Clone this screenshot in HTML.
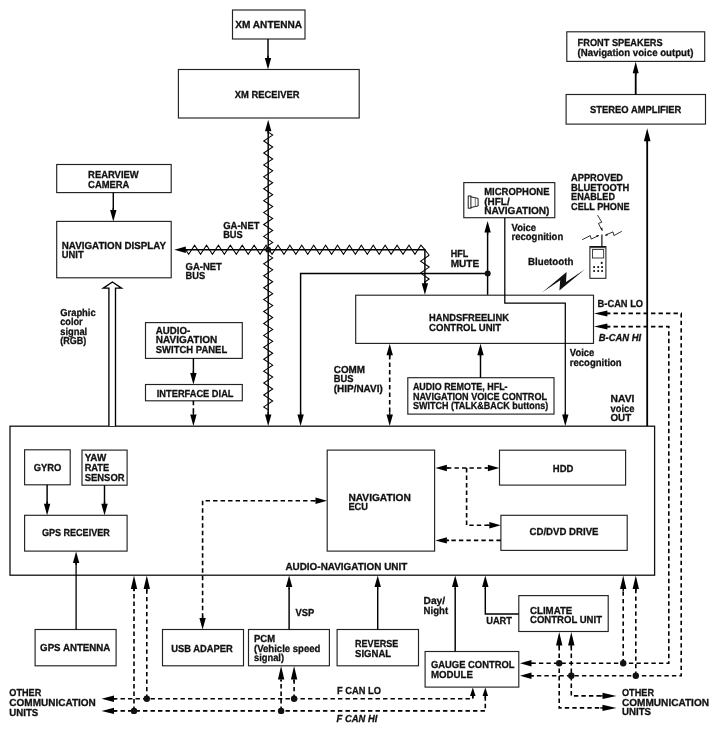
<!DOCTYPE html>
<html><head><meta charset="utf-8"><title>Navigation system block diagram</title>
<style>
html,body{margin:0;padding:0;background:#fff;}
body{width:718px;height:733px;overflow:hidden;}
svg{display:block;will-change:transform;transform:translateZ(0);}
svg text{font-family:"Liberation Sans",sans-serif;font-weight:bold;fill:#111;stroke:#111;stroke-width:0.3px;text-rendering:geometricPrecision;}
</style></head><body>
<svg width="718" height="733" viewBox="0 0 718 733">
<rect x="0" y="0" width="718" height="733" fill="#fff"/>
<rect x="10" y="426.2" width="644.6" height="149.0" fill="#fff" stroke="#111" stroke-width="1.3"/>
<rect x="232.5" y="10" width="72.5" height="29" fill="#fff" stroke="#222" stroke-width="1.15"/>
<rect x="178.4" y="69.5" width="180.8" height="48.5" fill="#fff" stroke="#222" stroke-width="1.15"/>
<rect x="56.7" y="164.5" width="114.5" height="28.1" fill="#fff" stroke="#222" stroke-width="1.15"/>
<rect x="56.7" y="221.4" width="114.5" height="56.4" fill="#fff" stroke="#222" stroke-width="1.15"/>
<rect x="145.5" y="322.6" width="96.8" height="35.8" fill="#fff" stroke="#222" stroke-width="1.15"/>
<rect x="145.5" y="384.5" width="96.8" height="16.3" fill="#fff" stroke="#222" stroke-width="1.15"/>
<rect x="566.8" y="31.8" width="137.9" height="29.6" fill="#fff" stroke="#222" stroke-width="1.15"/>
<rect x="566.1" y="94.5" width="139.4" height="29.6" fill="#fff" stroke="#222" stroke-width="1.15"/>
<rect x="463.8" y="182.6" width="91.0" height="35.1" fill="#fff" stroke="#222" stroke-width="1.15"/>
<rect x="355.7" y="295.2" width="237.8" height="48.2" fill="#fff" stroke="#222" stroke-width="1.15"/>
<rect x="407.8" y="377.7" width="146.2" height="36.4" fill="#fff" stroke="#222" stroke-width="1.15"/>
<rect x="24.6" y="449.8" width="45.6" height="35.0" fill="#fff" stroke="#222" stroke-width="1.15"/>
<rect x="82" y="450.1" width="45.1" height="35.1" fill="#fff" stroke="#222" stroke-width="1.15"/>
<rect x="24.6" y="515.3" width="102.5" height="35.8" fill="#fff" stroke="#222" stroke-width="1.15"/>
<rect x="327.2" y="450.1" width="107.4" height="101.0" fill="#fff" stroke="#222" stroke-width="1.15"/>
<rect x="499.5" y="450.2" width="126.1" height="34.9" fill="#fff" stroke="#222" stroke-width="1.15"/>
<rect x="500.9" y="515.3" width="126.3" height="35.1" fill="#fff" stroke="#222" stroke-width="1.15"/>
<rect x="35.1" y="629.5" width="81.0" height="36.3" fill="#fff" stroke="#222" stroke-width="1.15"/>
<rect x="162.5" y="629.5" width="81.0" height="36.3" fill="#fff" stroke="#222" stroke-width="1.15"/>
<rect x="248.5" y="629.5" width="80.9" height="36.3" fill="#fff" stroke="#222" stroke-width="1.15"/>
<rect x="337.1" y="629.5" width="81.4" height="36.3" fill="#fff" stroke="#222" stroke-width="1.15"/>
<rect x="425.1" y="651.5" width="93.7" height="35.6" fill="#fff" stroke="#222" stroke-width="1.15"/>
<rect x="518.8" y="595.6" width="89.4" height="35.9" fill="#fff" stroke="#222" stroke-width="1.15"/>
<path d="M268 39 L268 60" fill="none" stroke="#000" stroke-width="1.45"/>
<polygon points="268,69.5 264.8,58.0 271.2,58.0" fill="#000"/>
<path d="M268 58.3 L268 55.8" stroke="#000" stroke-width="1.4" fill="none"/>
<path d="M113.3 192.6 L113.3 212" fill="none" stroke="#000" stroke-width="1.45"/>
<polygon points="113.3,221.4 110.1,209.9 116.5,209.9" fill="#000"/>
<path d="M113.3 210.2 L113.3 207.7" stroke="#000" stroke-width="1.4" fill="none"/>
<path d="M193.4 358.4 L193.4 376" fill="none" stroke="#000" stroke-width="1.45"/>
<polygon points="193.4,384.5 190.2,373.0 196.6,373.0" fill="#000"/>
<path d="M193.4 373.3 L193.4 370.8" stroke="#000" stroke-width="1.4" fill="none"/>
<path d="M193.4 400.8 L193.4 416" fill="none" stroke="#000" stroke-width="1.6" stroke-dasharray="4.4 3.1"/>
<polygon points="193.4,426 190.2,414.5 196.6,414.5" fill="#000"/>
<path d="M193.4 414.8 L193.4 412.3" stroke="#000" stroke-width="1.4" fill="none"/>
<path d="M108.9 426 L108.9 288.1 L103.3 288.1 L112.4 282 L121.5 288.1 L115.5 288.1 L115.5 426" fill="#fff" stroke="#000" stroke-width="1.35"/>
<path d="M268.2 130 L268.2 416" fill="none" stroke="#000" stroke-width="1.45"/>
<polygon points="268.2,119.8 265.0,131.3 271.4,131.3" fill="#000"/>
<path d="M268.2 131.0 L268.2 133.5" stroke="#000" stroke-width="1.4" fill="none"/>
<polygon points="268.2,426 265.0,414.5 271.4,414.5" fill="#000"/>
<path d="M268.2 414.8 L268.2 412.3" stroke="#000" stroke-width="1.4" fill="none"/>
<path d="M268.2 132.12 L272.7 135.1 L263.7 141.06 L272.7 147.02 L263.7 152.98 L272.7 158.94 L263.7 164.9 L272.7 170.86 L263.7 176.82 L272.7 182.78 L263.7 188.74 L272.7 194.7 L263.7 200.66 L272.7 206.62 L263.7 212.58 L272.7 218.54 L263.7 224.5 L272.7 230.46 L263.7 236.42 L272.7 242.38 L268.2 245.36" fill="none" stroke="#000" stroke-width="1.05" stroke-linejoin="miter"/>
<path d="M268.2 254.92 L272.7 257.9 L263.7 263.86 L272.7 269.82 L263.7 275.78 L272.7 281.74 L263.7 287.7 L272.7 293.66 L263.7 299.62 L272.7 305.58 L263.7 311.54 L272.7 317.5 L263.7 323.46 L272.7 329.42 L263.7 335.38 L272.7 341.34 L263.7 347.3 L272.7 353.26 L263.7 359.22 L272.7 365.18 L263.7 371.14 L272.7 377.1 L263.7 383.06 L272.7 389.02 L263.7 394.98 L272.7 400.94 L263.7 406.9 L268.2 409.88" fill="none" stroke="#000" stroke-width="1.05" stroke-linejoin="miter"/>
<path d="M185 249.7 L424.9 249.7 L424.9 284" fill="none" stroke="#000" stroke-width="1.45"/>
<polygon points="174.3,249.7 185.8,246.5 185.8,252.9" fill="#000"/>
<path d="M185.5 249.7 L188.0 249.7" stroke="#000" stroke-width="1.4" fill="none"/>
<polygon points="424.9,294.8 421.7,283.3 428.1,283.3" fill="#000"/>
<path d="M424.9 283.6 L424.9 281.1" stroke="#000" stroke-width="1.4" fill="none"/>
<path d="M185.67 249.7 L188.64 254.2 L194.6 245.2 L200.56 254.2 L206.51 245.2 L212.47 254.2 L218.42 245.2 L224.38 254.2 L230.33 245.2 L236.28 254.2 L242.24 245.2 L248.19 254.2 L254.15 245.2 L260.11 254.2 L266.06 245.2 L272.01 254.2 L277.97 245.2 L283.93 254.2 L289.88 245.2 L295.83 254.2 L301.79 245.2 L307.75 254.2 L313.7 245.2 L319.65 254.2 L325.61 245.2 L331.56 254.2 L337.52 245.2 L343.48 254.2 L349.43 245.2 L355.38 254.2 L361.34 245.2 L367.29 254.2 L373.25 245.2 L379.2 254.2 L385.16 245.2 L391.12 254.2 L397.07 245.2 L403.02 254.2 L408.98 245.2 L414.94 254.2 L420.89 245.2 L424.9 249.7" fill="none" stroke="#000" stroke-width="1.05" stroke-linejoin="miter"/>
<path d="M429.2 255.2 L420.6 261.16 L429.2 267.12 L420.6 273.08 L429.2 279.04 L424.9 282.02" fill="none" stroke="#000" stroke-width="1.05" stroke-linejoin="miter"/>
<path d="M424.9 249.7 L429.2 255.2" fill="none" stroke="#000" stroke-width="1.05"/>
<circle cx="268.2" cy="249.7" r="2.9" fill="#111"/>
<path d="M487.6 232 L487.6 294.8" fill="none" stroke="#000" stroke-width="1.45"/>
<polygon points="487.6,221 484.4,232.5 490.8,232.5" fill="#000"/>
<path d="M487.6 232.2 L487.6 234.7" stroke="#000" stroke-width="1.4" fill="none"/>
<path d="M487.6 273.4 L300.6 273.4 L300.6 415" fill="none" stroke="#000" stroke-width="1.45"/>
<polygon points="300.6,426 297.4,414.5 303.8,414.5" fill="#000"/>
<path d="M300.6 414.8 L300.6 412.3" stroke="#000" stroke-width="1.4" fill="none"/>
<circle cx="487.7" cy="273.5" r="3.0" fill="#111"/>
<path d="M504.8 217.7 L504.8 303.1 L565.3 303.1 L565.3 415" fill="none" stroke="#000" stroke-width="1.25"/>
<polygon points="565.3,426 562.1,414.5 568.5,414.5" fill="#000"/>
<path d="M565.3 414.8 L565.3 412.3" stroke="#000" stroke-width="1.4" fill="none"/>
<path d="M480.5 377.7 L480.5 355" fill="none" stroke="#000" stroke-width="1.45"/>
<polygon points="480.5,343.7 477.3,355.2 483.7,355.2" fill="#000"/>
<path d="M480.5 354.9 L480.5 357.4" stroke="#000" stroke-width="1.4" fill="none"/>
<path d="M389.7 355 L389.7 415" fill="none" stroke="#000" stroke-width="1.6" stroke-dasharray="4.4 3.1"/>
<polygon points="389.7,343.7 386.5,355.2 392.9,355.2" fill="#000"/>
<path d="M389.7 354.9 L389.7 357.4" stroke="#000" stroke-width="1.4" fill="none"/>
<polygon points="389.7,426 386.5,414.5 392.9,414.5" fill="#000"/>
<path d="M389.7 414.8 L389.7 412.3" stroke="#000" stroke-width="1.4" fill="none"/>
<path d="M635.7 94.5 L635.7 73" fill="none" stroke="#000" stroke-width="1.8"/>
<polygon points="635.7,61.6 632.7,73.3 638.7,73.3" fill="#000"/>
<path d="M635.7 73.0 L635.7 75.5" stroke="#000" stroke-width="1.4" fill="none"/>
<path d="M647.2 426 L647.2 140" fill="none" stroke="#000" stroke-width="1.8"/>
<polygon points="647.2,128.3 643.9,141.3 650.5,141.3" fill="#000"/>
<path d="M647.2 141.0 L647.2 143.5" stroke="#000" stroke-width="1.4" fill="none"/>
<path d="M606 313.4 L681.2 313.4 L681.2 675.8 L531 675.8" fill="none" stroke="#000" stroke-width="1.6" stroke-dasharray="4.4 3.1"/>
<polygon points="594,313.5 607.4,310.5 607.4,316.5" fill="#000"/>
<path d="M607.1 313.5 L609.6 313.5" stroke="#000" stroke-width="1.4" fill="none"/>
<path d="M606 326.6 L668.8 326.6 L668.8 663.3 L531 663.3" fill="none" stroke="#000" stroke-width="1.6" stroke-dasharray="4.4 3.1"/>
<polygon points="594,326.6 607.4,323.6 607.4,329.6" fill="#000"/>
<path d="M607.1 326.6 L609.6 326.6" stroke="#000" stroke-width="1.4" fill="none"/>
<path d="M47.1 484.8 L47.1 505" fill="none" stroke="#000" stroke-width="1.45"/>
<polygon points="47.1,515.3 43.9,503.8 50.3,503.8" fill="#000"/>
<path d="M47.1 504.1 L47.1 501.6" stroke="#000" stroke-width="1.4" fill="none"/>
<path d="M104.5 485.2 L104.5 505" fill="none" stroke="#000" stroke-width="1.45"/>
<polygon points="104.5,515.3 101.3,503.8 107.7,503.8" fill="#000"/>
<path d="M104.5 504.1 L104.5 501.6" stroke="#000" stroke-width="1.4" fill="none"/>
<path d="M76.1 629.5 L76.1 562" fill="none" stroke="#000" stroke-width="1.3"/>
<polygon points="76.1,551.4 72.9,562.9 79.3,562.9" fill="#000"/>
<path d="M76.1 562.6 L76.1 565.1" stroke="#000" stroke-width="1.4" fill="none"/>
<path d="M315 500.7 L202.6 500.7 L202.6 619" fill="none" stroke="#000" stroke-width="1.6" stroke-dasharray="4.4 3.1"/>
<polygon points="327,500.7 315.5,497.5 315.5,503.9" fill="#000"/>
<path d="M315.8 500.7 L313.3 500.7" stroke="#000" stroke-width="1.4" fill="none"/>
<polygon points="202.6,629.5 199.4,618.0 205.8,618.0" fill="#000"/>
<path d="M202.6 618.3 L202.6 615.8" stroke="#000" stroke-width="1.4" fill="none"/>
<path d="M447 468 L487 468" fill="none" stroke="#000" stroke-width="1.6" stroke-dasharray="4.4 3.1"/>
<polygon points="435.4,468 446.9,464.8 446.9,471.2" fill="#000"/>
<path d="M446.6 468 L449.1 468" stroke="#000" stroke-width="1.4" fill="none"/>
<polygon points="499.4,468 487.9,464.8 487.9,471.2" fill="#000"/>
<path d="M488.2 468 L485.7 468" stroke="#000" stroke-width="1.4" fill="none"/>
<path d="M466.6 468 L466.6 525.3 L489 525.3" fill="none" stroke="#000" stroke-width="1.6" stroke-dasharray="4.4 3.1"/>
<polygon points="500.8,525.3 489.3,522.1 489.3,528.5" fill="#000"/>
<path d="M489.6 525.3 L487.1 525.3" stroke="#000" stroke-width="1.4" fill="none"/>
<path d="M500.8 540.4 L447 540.4" fill="none" stroke="#000" stroke-width="1.6" stroke-dasharray="4.4 3.1"/>
<polygon points="435.4,540.4 446.9,537.2 446.9,543.6" fill="#000"/>
<path d="M446.6 540.4 L449.1 540.4" stroke="#000" stroke-width="1.4" fill="none"/>
<path d="M289.1 629.5 L289.1 588" fill="none" stroke="#000" stroke-width="1.45"/>
<polygon points="289.1,575.5 285.9,587.0 292.3,587.0" fill="#000"/>
<path d="M289.1 586.7 L289.1 589.2" stroke="#000" stroke-width="1.4" fill="none"/>
<path d="M377.7 629.5 L377.7 588" fill="none" stroke="#000" stroke-width="1.45"/>
<polygon points="377.7,575.5 374.5,587.0 380.9,587.0" fill="#000"/>
<path d="M377.7 586.7 L377.7 589.2" stroke="#000" stroke-width="1.4" fill="none"/>
<path d="M455.2 651.5 L455.2 588" fill="none" stroke="#000" stroke-width="1.45"/>
<polygon points="455.2,575.5 452.0,587.0 458.4,587.0" fill="#000"/>
<path d="M455.2 586.7 L455.2 589.2" stroke="#000" stroke-width="1.4" fill="none"/>
<path d="M518.8 613.9 L485.3 613.9 L485.3 588" fill="none" stroke="#000" stroke-width="1.45"/>
<polygon points="485.3,575.5 482.1,587.0 488.5,587.0" fill="#000"/>
<path d="M485.3 586.7 L485.3 589.2" stroke="#000" stroke-width="1.4" fill="none"/>
<path d="M113 698.8 L472.8 698.8 L472.8 696" fill="none" stroke="#000" stroke-width="1.6" stroke-dasharray="4.4 3.1"/>
<polygon points="101.5,698.8 114.0,695.6 114.0,702.0" fill="#000"/>
<path d="M113.7 698.8 L116.2 698.8" stroke="#000" stroke-width="1.4" fill="none"/>
<polygon points="472.8,687.5 470.05,696.0 475.55,696.0" fill="#000"/>
<path d="M472.8 695.7 L472.8 698.2" stroke="#000" stroke-width="1.4" fill="none"/>
<path d="M113 710.9 L485.3 710.9 L485.3 696" fill="none" stroke="#000" stroke-width="1.6" stroke-dasharray="4.4 3.1"/>
<polygon points="101.5,710.9 114.0,707.7 114.0,714.1" fill="#000"/>
<path d="M113.7 710.9 L116.2 710.9" stroke="#000" stroke-width="1.4" fill="none"/>
<polygon points="485.3,687.5 482.55,696.0 488.05,696.0" fill="#000"/>
<path d="M485.3 695.7 L485.3 698.2" stroke="#000" stroke-width="1.4" fill="none"/>
<path d="M146.8 698.8 L146.8 589" fill="none" stroke="#000" stroke-width="1.6" stroke-dasharray="4.4 3.1"/>
<polygon points="146.8,575.5 143.6,589.0 150.0,589.0" fill="#000"/>
<path d="M146.8 588.7 L146.8 591.2" stroke="#000" stroke-width="1.4" fill="none"/>
<path d="M134 710.9 L134 589" fill="none" stroke="#000" stroke-width="1.6" stroke-dasharray="4.4 3.1"/>
<polygon points="134,575.5 130.8,589.0 137.2,589.0" fill="#000"/>
<path d="M134 588.7 L134 591.2" stroke="#000" stroke-width="1.4" fill="none"/>
<circle cx="146.8" cy="698.8" r="3.2" fill="#111"/>
<circle cx="134" cy="710.9" r="3.2" fill="#111"/>
<path d="M294.1 698.8 L294.1 680" fill="none" stroke="#000" stroke-width="1.6" stroke-dasharray="4.4 3.1"/>
<polygon points="294.1,666.1 290.9,679.6 297.3,679.6" fill="#000"/>
<path d="M294.1 679.3 L294.1 681.8" stroke="#000" stroke-width="1.4" fill="none"/>
<path d="M281.1 710.9 L281.1 680" fill="none" stroke="#000" stroke-width="1.6" stroke-dasharray="4.4 3.1"/>
<polygon points="281.1,666.1 277.9,679.6 284.3,679.6" fill="#000"/>
<path d="M281.1 679.3 L281.1 681.8" stroke="#000" stroke-width="1.4" fill="none"/>
<circle cx="294.1" cy="698.8" r="3.2" fill="#111"/>
<circle cx="281.1" cy="710.9" r="3.2" fill="#111"/>
<polygon points="520,663.3 531.5,660.1 531.5,666.5" fill="#000"/>
<path d="M531.2 663.3 L533.7 663.3" stroke="#000" stroke-width="1.4" fill="none"/>
<polygon points="520,675.8 531.5,672.6 531.5,679.0" fill="#000"/>
<path d="M531.2 675.8 L533.7 675.8" stroke="#000" stroke-width="1.4" fill="none"/>
<path d="M559.2 646 L559.2 707.9 L603 707.9" fill="none" stroke="#000" stroke-width="1.6" stroke-dasharray="4.4 3.1"/>
<polygon points="559.2,631.9 556.0,645.4 562.4,645.4" fill="#000"/>
<path d="M559.2 645.1 L559.2 647.6" stroke="#000" stroke-width="1.4" fill="none"/>
<polygon points="616.5,707.9 602.5,704.7 602.5,711.1" fill="#000"/>
<path d="M602.8 707.9 L600.3 707.9" stroke="#000" stroke-width="1.4" fill="none"/>
<path d="M571.3 646 L571.3 695.9 L603 695.9" fill="none" stroke="#000" stroke-width="1.6" stroke-dasharray="4.4 3.1"/>
<polygon points="571.3,631.9 568.1,645.4 574.5,645.4" fill="#000"/>
<path d="M571.3 645.1 L571.3 647.6" stroke="#000" stroke-width="1.4" fill="none"/>
<polygon points="616.5,695.9 602.5,692.7 602.5,699.1" fill="#000"/>
<path d="M602.8 695.9 L600.3 695.9" stroke="#000" stroke-width="1.4" fill="none"/>
<path d="M623.2 663.3 L623.2 589" fill="none" stroke="#000" stroke-width="1.6" stroke-dasharray="4.4 3.1"/>
<polygon points="623.2,575.5 620.0,589.0 626.4,589.0" fill="#000"/>
<path d="M623.2 588.7 L623.2 591.2" stroke="#000" stroke-width="1.4" fill="none"/>
<path d="M635.8 675.8 L635.8 589" fill="none" stroke="#000" stroke-width="1.6" stroke-dasharray="4.4 3.1"/>
<polygon points="635.8,575.5 632.6,589.0 639.0,589.0" fill="#000"/>
<path d="M635.8 588.7 L635.8 591.2" stroke="#000" stroke-width="1.4" fill="none"/>
<circle cx="559.2" cy="663.3" r="3.2" fill="#111"/>
<circle cx="571.3" cy="675.8" r="3.2" fill="#111"/>
<circle cx="623.2" cy="663.3" r="3.2" fill="#111"/>
<circle cx="635.8" cy="675.8" r="3.2" fill="#111"/>
<text x="235.3" y="27.9" font-size="10.2" textLength="66.8" lengthAdjust="spacingAndGlyphs">XM ANTENNA</text>
<text x="234.7" y="97.9" font-size="10.2" textLength="64.8" lengthAdjust="spacingAndGlyphs">XM RECEIVER</text>
<text x="88.1" y="178.1" font-size="10.2" textLength="50.6" lengthAdjust="spacingAndGlyphs">REARVIEW</text>
<text x="88.1" y="187.5" font-size="10.2" textLength="41.3" lengthAdjust="spacingAndGlyphs">CAMERA</text>
<text x="61.8" y="248.6" font-size="10.2" textLength="104.2" lengthAdjust="spacingAndGlyphs">NAVIGATION DISPLAY</text>
<text x="61.8" y="258" font-size="10.2" textLength="21.8" lengthAdjust="spacingAndGlyphs">UNIT</text>
<text x="60.2" y="315.9" font-size="10.2" textLength="35.5" lengthAdjust="spacingAndGlyphs">Graphic</text>
<text x="60.2" y="325.4" font-size="10.2" textLength="22.5" lengthAdjust="spacingAndGlyphs">color</text>
<text x="60.2" y="335" font-size="10.2" textLength="27" lengthAdjust="spacingAndGlyphs">signal</text>
<text x="60.2" y="344.3" font-size="10.2" textLength="26" lengthAdjust="spacingAndGlyphs">(RGB)</text>
<text x="155.8" y="333.8" font-size="10.2" textLength="34.5" lengthAdjust="spacingAndGlyphs">AUDIO-</text>
<text x="155.8" y="343.4" font-size="10.2" textLength="61.5" lengthAdjust="spacingAndGlyphs">NAVIGATION</text>
<text x="155.8" y="352.7" font-size="10.2" textLength="71.4" lengthAdjust="spacingAndGlyphs">SWITCH PANEL</text>
<text x="156.8" y="396.5" font-size="10.2" textLength="76.7" lengthAdjust="spacingAndGlyphs">INTERFACE DIAL</text>
<text x="223.2" y="228.6" font-size="10.2" textLength="36.3" lengthAdjust="spacingAndGlyphs">GA-NET</text>
<text x="223.2" y="237.9" font-size="10.2" textLength="19.5" lengthAdjust="spacingAndGlyphs">BUS</text>
<text x="185.6" y="269.7" font-size="10.2" textLength="36.3" lengthAdjust="spacingAndGlyphs">GA-NET</text>
<text x="185.6" y="278.8" font-size="10.2" textLength="19.5" lengthAdjust="spacingAndGlyphs">BUS</text>
<text x="577.6" y="46.3" font-size="10.2" textLength="85" lengthAdjust="spacingAndGlyphs">FRONT SPEAKERS</text>
<text x="577.6" y="56.4" font-size="10.2" textLength="115.8" lengthAdjust="spacingAndGlyphs">(Navigation voice output)</text>
<text x="590.1" y="112.8" font-size="10.2" textLength="91.3" lengthAdjust="spacingAndGlyphs">STEREO AMPLIFIER</text>
<text x="484.2" y="195.1" font-size="10.2" textLength="65.3" lengthAdjust="spacingAndGlyphs">MICROPHONE</text>
<text x="484.2" y="204.6" font-size="10.2" textLength="25.5" lengthAdjust="spacingAndGlyphs">(HFL/</text>
<text x="484.2" y="213.9" font-size="10.2" textLength="65.3" lengthAdjust="spacingAndGlyphs">NAVIGATION)</text>
<text x="571.1" y="181.1" font-size="10.2" textLength="51.9" lengthAdjust="spacingAndGlyphs">APPROVED</text>
<text x="571.1" y="190.7" font-size="10.2" textLength="58.1" lengthAdjust="spacingAndGlyphs">BLUETOOTH</text>
<text x="571.1" y="200.2" font-size="10.2" textLength="43.9" lengthAdjust="spacingAndGlyphs">ENABLED</text>
<text x="571.1" y="210" font-size="10.2" textLength="58.5" lengthAdjust="spacingAndGlyphs">CELL PHONE</text>
<text x="511.6" y="230.6" font-size="10.2" textLength="24.5" lengthAdjust="spacingAndGlyphs">Voice</text>
<text x="511.6" y="240.4" font-size="10.2" textLength="51.6" lengthAdjust="spacingAndGlyphs">recognition</text>
<text x="528.1" y="265.2" font-size="10.2" textLength="45.2" lengthAdjust="spacingAndGlyphs">Bluetooth</text>
<text x="450.7" y="257.2" font-size="10.2" textLength="17.5" lengthAdjust="spacingAndGlyphs">HFL</text>
<text x="450.7" y="266.6" font-size="10.2" textLength="28.5" lengthAdjust="spacingAndGlyphs">MUTE</text>
<text x="429.1" y="321.3" font-size="10.2" textLength="79.8" lengthAdjust="spacingAndGlyphs">HANDSFREELINK</text>
<text x="429.1" y="330.9" font-size="10.2" textLength="72" lengthAdjust="spacingAndGlyphs">CONTROL UNIT</text>
<text x="597.6" y="306.6" font-size="10.2" textLength="45.5" lengthAdjust="spacingAndGlyphs">B-CAN LO</text>
<text x="598.8" y="340.7" font-size="10.2" textLength="42.4" lengthAdjust="spacingAndGlyphs" font-style="italic">B-CAN HI</text>
<text x="569.8" y="355.9" font-size="10.2" textLength="24.5" lengthAdjust="spacingAndGlyphs">Voice</text>
<text x="569.8" y="365.7" font-size="10.2" textLength="51.9" lengthAdjust="spacingAndGlyphs">recognition</text>
<text x="610.5" y="402.2" font-size="10.2" textLength="23.9" lengthAdjust="spacingAndGlyphs">NAVI</text>
<text x="610.5" y="412" font-size="10.2" textLength="23.9" lengthAdjust="spacingAndGlyphs">voice</text>
<text x="610.5" y="421.4" font-size="10.2" textLength="20.7" lengthAdjust="spacingAndGlyphs">OUT</text>
<text x="333.8" y="372.5" font-size="10.2" textLength="31.3" lengthAdjust="spacingAndGlyphs">COMM</text>
<text x="333.8" y="381.9" font-size="10.2" textLength="19.7" lengthAdjust="spacingAndGlyphs">BUS</text>
<text x="333.8" y="391.7" font-size="10.2" textLength="48.9" lengthAdjust="spacingAndGlyphs">(HIP/NAVI)</text>
<text x="412.9" y="390.4" font-size="10.2" textLength="94.7" lengthAdjust="spacingAndGlyphs">AUDIO REMOTE, HFL-</text>
<text x="412.9" y="399.7" font-size="10.2" textLength="134.2" lengthAdjust="spacingAndGlyphs">NAVIGATION VOICE CONTROL</text>
<text x="412.9" y="408.9" font-size="10.2" textLength="135.3" lengthAdjust="spacingAndGlyphs">SWITCH (TALK&amp;BACK buttons)</text>
<text x="33.8" y="470.9" font-size="10.2" textLength="27.6" lengthAdjust="spacingAndGlyphs">GYRO</text>
<text x="84.7" y="460.9" font-size="10.2" textLength="21.5" lengthAdjust="spacingAndGlyphs">YAW</text>
<text x="84.7" y="470.9" font-size="10.2" textLength="24.5" lengthAdjust="spacingAndGlyphs">RATE</text>
<text x="84.7" y="480.7" font-size="10.2" textLength="39.9" lengthAdjust="spacingAndGlyphs">SENSOR</text>
<text x="41.9" y="536.1" font-size="10.2" textLength="67.9" lengthAdjust="spacingAndGlyphs">GPS RECEIVER</text>
<text x="348.4" y="501" font-size="10.2" textLength="62.4" lengthAdjust="spacingAndGlyphs">NAVIGATION</text>
<text x="348.4" y="510.3" font-size="10.2" textLength="19.5" lengthAdjust="spacingAndGlyphs">ECU</text>
<text x="285.4" y="569.5" font-size="10.2" textLength="121.9" lengthAdjust="spacingAndGlyphs">AUDIO-NAVIGATION UNIT</text>
<text x="552.8" y="472.2" font-size="10.2" textLength="20.6" lengthAdjust="spacingAndGlyphs">HDD</text>
<text x="529.5" y="535.3" font-size="10.2" textLength="69" lengthAdjust="spacingAndGlyphs">CD/DVD DRIVE</text>
<text x="40.1" y="650.8" font-size="10.2" textLength="70.2" lengthAdjust="spacingAndGlyphs">GPS ANTENNA</text>
<text x="171.3" y="651.5" font-size="10.2" textLength="61.4" lengthAdjust="spacingAndGlyphs">USB ADAPER</text>
<text x="254" y="642" font-size="10.2" textLength="21" lengthAdjust="spacingAndGlyphs">PCM</text>
<text x="254" y="651.5" font-size="10.2" textLength="66.4" lengthAdjust="spacingAndGlyphs">(Vehicle speed</text>
<text x="254" y="661.3" font-size="10.2" textLength="30" lengthAdjust="spacingAndGlyphs">signal)</text>
<text x="295.4" y="615.7" font-size="10.2" textLength="18.8" lengthAdjust="spacingAndGlyphs">VSP</text>
<text x="355.1" y="647" font-size="10.2" textLength="43.1" lengthAdjust="spacingAndGlyphs">REVERSE</text>
<text x="355.1" y="656.5" font-size="10.2" textLength="36" lengthAdjust="spacingAndGlyphs">SIGNAL</text>
<text x="423.6" y="603.9" font-size="10.2" textLength="21.5" lengthAdjust="spacingAndGlyphs">Day/</text>
<text x="423.6" y="613.9" font-size="10.2" textLength="24.5" lengthAdjust="spacingAndGlyphs">Night</text>
<text x="486.2" y="624.4" font-size="10.2" textLength="25.8" lengthAdjust="spacingAndGlyphs">UART</text>
<text x="530" y="613.9" font-size="10.2" textLength="42.3" lengthAdjust="spacingAndGlyphs">CLIMATE</text>
<text x="530" y="623.3" font-size="10.2" textLength="72" lengthAdjust="spacingAndGlyphs">CONTROL UNIT</text>
<text x="431" y="667.8" font-size="10.2" textLength="83.5" lengthAdjust="spacingAndGlyphs">GAUGE CONTROL</text>
<text x="431" y="677.6" font-size="10.2" textLength="42" lengthAdjust="spacingAndGlyphs">MODULE</text>
<text x="337" y="694" font-size="10.2" textLength="43.9" lengthAdjust="spacingAndGlyphs">F CAN LO</text>
<text x="336.6" y="722.4" font-size="10.2" textLength="40.7" lengthAdjust="spacingAndGlyphs" font-style="italic">F CAN HI</text>
<text x="9.3" y="696.4" font-size="10.2" textLength="32" lengthAdjust="spacingAndGlyphs">OTHER</text>
<text x="9.3" y="706.4" font-size="10.2" textLength="86.5" lengthAdjust="spacingAndGlyphs">COMMUNICATION</text>
<text x="9.3" y="716" font-size="10.2" textLength="29" lengthAdjust="spacingAndGlyphs">UNITS</text>
<text x="622" y="696.4" font-size="10.2" textLength="32" lengthAdjust="spacingAndGlyphs">OTHER</text>
<text x="622" y="705.9" font-size="10.2" textLength="87" lengthAdjust="spacingAndGlyphs">COMMUNICATION</text>
<text x="622" y="715.4" font-size="10.2" textLength="29" lengthAdjust="spacingAndGlyphs">UNITS</text>
<g fill="none" stroke="#111" stroke-width="0.95"><rect x="468.2" y="196" width="2.7" height="12.2"/><path d="M470.9 196.8 L478.1 198.4 L478.1 206 L470.9 207.5"/><path d="M475.3 197.8 L475.3 206.6" stroke="#555" stroke-width="0.8"/></g>
<g fill="#fff" stroke="#111" stroke-width="1"><rect x="589.9" y="246.5" width="16" height="31.8"/><rect x="592.4" y="249.6" width="11.3" height="8.4" stroke-width="0.8"/><path d="M589.9 247.6 L605.9 247.6" stroke-width="1.2" stroke="#444"/><path d="M601.9 246.5 L601.9 234.6" stroke-width="1.2"/></g>
<circle cx="594.1" cy="267.1" r="1.05" fill="#111"/>
<circle cx="598.2" cy="267.1" r="1.05" fill="#111"/>
<circle cx="602.1" cy="267.1" r="1.05" fill="#111"/>
<circle cx="594.1" cy="271" r="1.05" fill="#111"/>
<circle cx="598.2" cy="271" r="1.05" fill="#111"/>
<circle cx="602.1" cy="271" r="1.05" fill="#111"/>
<circle cx="601.7" cy="262.9" r="1.05" fill="#111"/>
<g fill="none" stroke="#111" stroke-width="0.85"><path d="M597.5 215.1 L601.8 222.2 L598.4 223.4 L602.1 230.5"/><path d="M582.2 239.7 L590.3 235.6 L591.2 239.1 L598.6 235.6"/><path d="M621.8 231.3 L613.9 235.6 L613.0 231.9 L605.3 235.2"/></g>
<polygon points="602.6,231.3 600.4,228.4 602.3,227.4" fill="#111"/><polygon points="599.3,235.3 596.2,235.2 597,237.3" fill="#111"/><polygon points="604.8,235.7 607.9,235.5 607.1,233.5" fill="#111"/>
<polygon points="542.1,292.6 566.6,272.1 566.0,281.9 585,269.2 559.4,290.5 560.2,280.3" fill="#111"/>
</svg>
</body></html>
